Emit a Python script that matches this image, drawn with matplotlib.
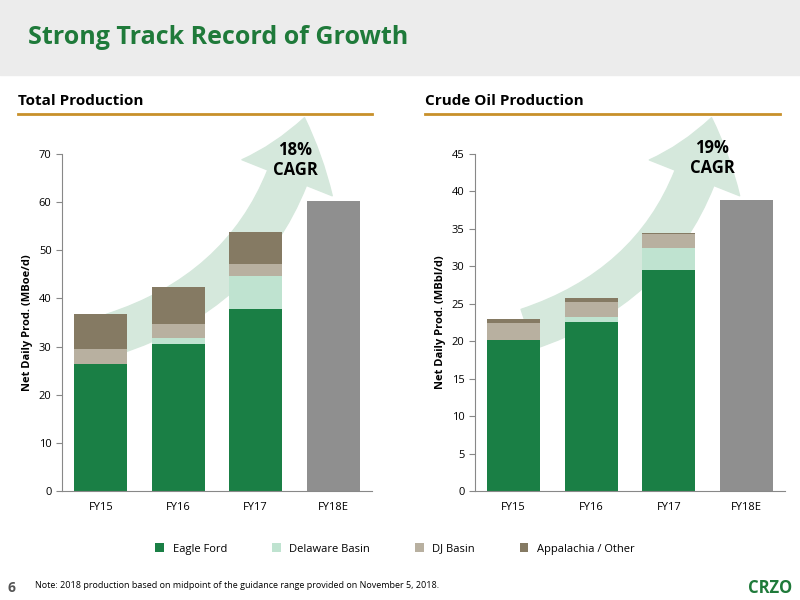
import matplotlib
matplotlib.use("Agg")
import matplotlib.pyplot as plt
from matplotlib.patches import FancyArrowPatch, Rectangle
import numpy as np

cats = ["FY15", "FY16", "FY17", "FY18E"]
tot_eagle = [26.3, 30.5, 37.8, 0]
tot_delaware = [0.0, 1.2, 6.8, 0]
tot_dj = [3.2, 3.0, 2.5, 0]
tot_app = [7.2, 7.6, 6.7, 0]
tot_fy18 = [0, 0, 0, 60.3]
oil_eagle = [20.2, 22.6, 29.5, 0]
oil_delaware = [0.0, 0.6, 2.9, 0]
oil_dj = [2.3, 2.1, 1.9, 0]
oil_app = [0.5, 0.5, 0.15, 0]
oil_fy18 = [0, 0, 0, 38.9]
series_names = ["Eagle Ford", "Delaware Basin", "DJ Basin", "Appalachia / Other"]
colors = ["#1a7f45", "#bfe3d0", "#b8b0a0", "#857a63"]
gray = "#8f8f8f"
green = "#1f7a3a"

plt.rcParams['font.family'] = ['Open Sans', 'DejaVu Sans']
fig = plt.figure(figsize=(8, 6), dpi=100)
W, H = 800, 600
def fx(x): return x / W
def fy(y): return 1 - y / H

fig.add_artist(Rectangle((0, fy(75)), 1, 75 / H, transform=fig.transFigure, color="#ececec", zorder=0))
fig.text(fx(28), fy(38), "Strong Track Record of Growth", color=green, fontsize=18, fontweight="bold", va="center")
for x0, x1, t in [(18, 372, "Total Production"), (425, 780, "Crude Oil Production")]:
    fig.text(fx(x0), fy(101), t, fontsize=11, fontweight="bold", va="center")
    fig.add_artist(plt.Line2D([fx(x0), fx(x1)], [fy(114), fy(114)], color="#c8902a", lw=2, transform=fig.transFigure))

def arrow(tail, tip, label, lx, ly):
    a = FancyArrowPatch((fx(tail[0]), fy(tail[1])), (fx(tip[0]), fy(tip[1])),
                        transform=fig.transFigure, connectionstyle="arc3,rad=0.3",
                        arrowstyle="simple,head_width=7,head_length=4.5,tail_width=3",
                        mutation_scale=10, color="#d5e8dc", zorder=0.5)
    fig.add_artist(a)
    fig.text(fx(lx), fy(ly), label, fontsize=12, fontweight="bold", ha="center", va="center", zorder=5)

arrow((110, 335), (305, 115), "18%\nCAGR", 295, 160)
arrow((525, 330), (712, 115), "19%\nCAGR", 712, 158)

def panel(left, vals, fy18, ymax, step, ylabel):
    ax = fig.add_axes([fx(left), fy(491), fx(310), (491 - 154) / H])
    ax.set_zorder(2)
    ax.patch.set_alpha(0)
    x = np.arange(len(cats))
    bottom = np.zeros(len(cats))
    for v, c, n in zip(vals, colors, series_names):
        ax.bar(x, v, 0.68, bottom=bottom, color=c, label=n, zorder=2)
        bottom += np.array(v)
    ax.bar(x, fy18, 0.68, color=gray, zorder=2)
    ax.set_ylim(0, ymax)
    ax.set_xlim(-0.5, 3.5)
    ax.set_yticks(np.arange(0, ymax + 0.1, step))
    ax.set_xticks(x)
    ax.set_xticklabels(cats, fontsize=8)
    ax.tick_params(axis='y', labelsize=8, length=4, color="#888888")
    ax.tick_params(axis='x', length=0, pad=8)
    for s in ["top", "right"]:
        ax.spines[s].set_visible(False)
    for s in ["left", "bottom"]:
        ax.spines[s].set_color("#888888")
    ax.set_ylabel(ylabel, fontsize=8, fontweight="bold")
    return ax

ax1 = panel(62, [tot_eagle, tot_delaware, tot_dj, tot_app], tot_fy18, 70, 10, "Net Daily Prod. (MBoe/d)")
ax2 = panel(475, [oil_eagle, oil_delaware, oil_dj, oil_app], oil_fy18, 45, 5, "Net Daily Prod. (MBbl/d)")

h, l = ax1.get_legend_handles_labels()
fig.legend(h, l, loc="center", bbox_to_anchor=(fx(395), fy(549)), ncol=4, frameon=False,
           fontsize=8, handlelength=0.8, handleheight=0.8, columnspacing=4)

fig.text(fx(8), fy(588), "6", fontsize=10, fontweight="bold", color="#555555", va="center")
fig.text(fx(35), fy(586), "Note: 2018 production based on midpoint of the guidance range provided on November 5, 2018.",
         fontsize=6.5, va="center")
fig.text(fx(792), fy(588), "CRZO", fontsize=12, fontweight="bold", color=green, ha="right", va="center")

fig.savefig("out.png", dpi=100)
